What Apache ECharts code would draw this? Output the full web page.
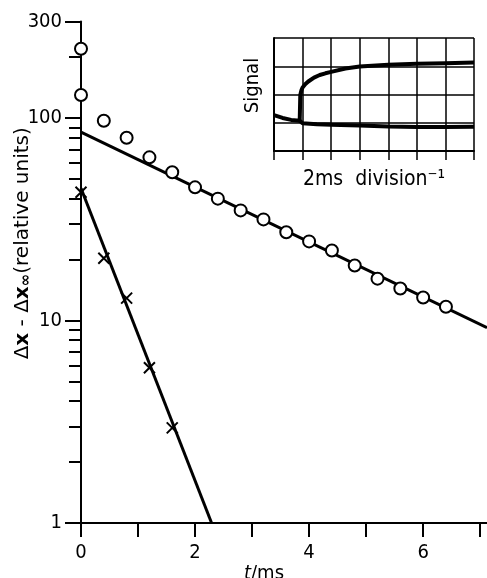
<!DOCTYPE html>
<html>
<head>
<meta charset="utf-8">
<script src="https://cdn.jsdelivr.net/npm/echarts@6/dist/echarts.min.js"></script>
<style>
  html, body { margin: 0; padding: 0; background: #fff; }
  #chart { width: 487px; height: 578px; }
</style>
</head>
<body>
<div id="chart"></div>
<script>
// decay of the two components (log scale)
const circleT = [0, 0, 0.4, 0.8, 1.2, 1.6, 2.0, 2.4, 2.8, 3.2, 3.6, 4.0, 4.4, 4.8, 5.2, 5.6, 6.0, 6.4]
const circleV = [220, 130, 97, 80, 64, 54, 45.5, 40, 35, 31.6, 27.3, 24.6, 22.2, 18.7, 16.1, 14.4, 13.0, 11.7]
const crossT = [0, 0.4, 0.8, 1.2, 1.6]
const crossV = [43, 20.3, 12.9, 5.85, 2.95]

// fitted straight lines (end points)
const slowFitT = [0, 7.12]
const slowFitV = [85.3, 9.23]
const fastFitT = [0, 2.29]
const fastFitV = [45, 1]

// axis ticks
const xTicks = [0, 1, 2, 3, 4, 5, 6, 7]
const xLabels = [0, 2, 4, 6]
const yMajor = [1, 10, 100, 300]
const yMinor = [2, 3, 4, 5, 6, 7, 8, 9, 20, 30, 40, 50, 60, 70, 80, 90, 200]

// inset: oscilloscope trace, in grid divisions
const upperX = [0, 0.3, 0.6, 0.9, 0.92, 0.96, 1.0, 1.1, 1.2, 1.4, 1.6, 1.8, 2.0, 2.5, 3, 4, 5, 6, 7]
const upperY = [1.27, 1.17, 1.1, 1.07, 1.98, 2.15, 2.25, 2.37, 2.46, 2.6, 2.69, 2.75, 2.8, 2.92, 2.99, 3.05, 3.09, 3.11, 3.13]
const lowerX = [0.9, 1, 1.5, 2, 3, 4, 5, 6, 7]
const lowerY = [1.07, 0.98, 0.95, 0.93, 0.9, 0.87, 0.85, 0.85, 0.86]

const zip = (a, b) => a.map((v, i) => [v, b[i]])

const font = '"DejaVu Sans Condensed", "DejaVu Sans", sans-serif'
const wide = '"DejaVu Sans", sans-serif'
const black = '#000'

const chart = echarts.init(document.getElementById('chart'))

chart.setOption({
  animation: false,
  backgroundColor: '#fff',
  textStyle: { fontFamily: font },
  grid: [
    { left: 81, top: 21.5, right: 0, bottom: 55, containLabel: false, outerBoundsMode: 'none' },
    { left: 274, top: 38, width: 200, height: 113, containLabel: false, outerBoundsMode: 'none' }
  ],
  xAxis: [{
    type: 'value',
    gridIndex: 0,
    min: 0,
    max: 7.12,
    axisLine: { lineStyle: { color: black, width: 2 } },
    axisTick: { customValues: xTicks, length: 14, lineStyle: { color: black, width: 2 } },
    axisLabel: { customValues: xLabels, margin: 20, fontSize: 20, color: black, fontFamily: font },
    splitLine: { show: false },
    name: '{i|t}{n|/ms}',
    nameLocation: 'middle',
    nameGap: 41,
    nameMoveOverlap: false,
    nameTextStyle: {
      padding: [0, 40, 0, 0],
      rich: {
        i: { fontSize: 20, fontStyle: 'italic', color: black, fontFamily: font },
        n: { fontSize: 20, color: black, fontFamily: font }
      }
    }
  }, {
    type: 'value',
    gridIndex: 1,
    min: 0,
    max: 7,
    interval: 1,
    axisLine: { lineStyle: { color: black, width: 2 } },
    axisTick: { length: 9, lineStyle: { color: black, width: 1.5 } },
    axisLabel: { show: false },
    splitLine: { show: true, lineStyle: { color: black, width: 1.5 } },
    name: '2ms  division\u207B\u00B9',
    nameLocation: 'middle',
    nameGap: 18,
    nameTextStyle: { fontSize: 21, color: black, fontFamily: font }
  }],
  yAxis: [{
    type: 'log',
    gridIndex: 0,
    logBase: 10,
    min: 1,
    max: 300,
    axisLine: { show: true, lineStyle: { color: black, width: 2 } },
    axisTick: { show: true, customValues: yMajor, length: 16, lineStyle: { color: black, width: 2 } },
    axisLabel: {
      customValues: yMajor,
      margin: 19,
      fontSize: 20,
      color: black,
      fontFamily: font,
      formatter: v => String(Math.round(v))
    },
    splitLine: { show: false },
    name: '\u0394{b|x} - \u0394{b|x}{s|\u221E}(relative units)',
    nameLocation: 'middle',
    nameGap: 47,
    nameMoveOverlap: false,
    nameTextStyle: {
      fontSize: 20,
      color: black,
      fontFamily: wide,
      padding: [0, 0, 0, 58],
      rich: {
        b: { fontSize: 20, fontWeight: 'bold', color: black, fontFamily: wide },
        s: { fontSize: 15, fontWeight: 'bold', color: black, fontFamily: wide, padding: [8, 0, 0, 0] }
      }
    }
  }, {
    // minor ticks only
    type: 'log',
    gridIndex: 0,
    position: 'left',
    logBase: 10,
    min: 1,
    max: 300,
    axisLine: { show: false },
    axisTick: { show: true, customValues: yMinor, length: 12, lineStyle: { color: black, width: 2 } },
    axisLabel: { show: false },
    splitLine: { show: false }
  }, {
    type: 'value',
    gridIndex: 1,
    min: 0,
    max: 4,
    interval: 1,
    axisLine: { show: true, lineStyle: { color: black, width: 2 } },
    axisTick: { show: false },
    axisLabel: { show: false },
    splitLine: { show: true, lineStyle: { color: black, width: 1.5 } },
    name: 'Signal',
    nameLocation: 'middle',
    nameGap: 11,
    nameTextStyle: { fontSize: 20, color: black, fontFamily: font, padding: [0, 0, 0, 18] }
  }],
  series: [{
    name: 'slow fit',
    type: 'line',
    data: zip(slowFitT, slowFitV),
    showSymbol: false,
    lineStyle: { color: black, width: 3 }
  }, {
    name: 'fast fit',
    type: 'line',
    data: zip(fastFitT, fastFitV),
    showSymbol: false,
    lineStyle: { color: black, width: 3 }
  }, {
    name: 'slow',
    type: 'scatter',
    data: zip(circleT, circleV),
    symbol: 'circle',
    symbolSize: 12,
    itemStyle: { color: '#fff', borderColor: black, borderWidth: 2, opacity: 1 },
    z: 5
  }, {
    name: 'fast',
    type: 'scatter',
    data: zip(crossT, crossV),
    symbol: 'path://M0,0L10,10M10,0L0,10',
    symbolSize: 11,
    itemStyle: { color: 'transparent', borderColor: black, borderWidth: 2, opacity: 1 },
    z: 5
  }, {
    name: 'trace upper',
    type: 'line',
    xAxisIndex: 1,
    yAxisIndex: 2,
    data: zip(upperX, upperY),
    showSymbol: false,
    lineStyle: { color: black, width: 4 }
  }, {
    name: 'trace lower',
    type: 'line',
    xAxisIndex: 1,
    yAxisIndex: 2,
    data: zip(lowerX, lowerY),
    showSymbol: false,
    lineStyle: { color: black, width: 4 }
  }]
})
</script>
</body>
</html>
